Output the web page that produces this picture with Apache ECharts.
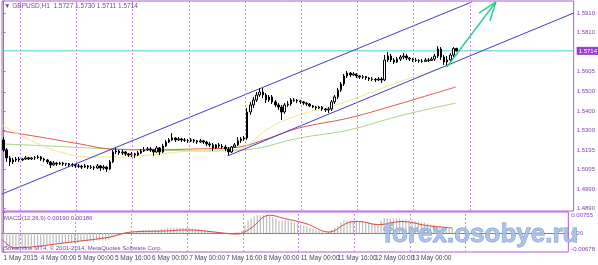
<!DOCTYPE html>
<html><head><meta charset="utf-8">
<script src="https://cdn.jsdelivr.net/npm/echarts@6/dist/echarts.min.js"></script>
<style>html,body{margin:0;padding:0;background:#fff}#c{width:598px;height:265px}</style>
</head><body><div id="c"></div>
<script>
// ---- candle data (GBPUSD H1) ----
const opens=[
1.5248,1.5196,1.5154,1.5133,1.5143,1.5148,1.5143,1.5148,1.5154,1.5148,
1.5154,1.5156,1.5159,1.5148,1.5143,1.5133,1.5117,1.5127,1.5122,1.5127,
1.5122,1.5124,1.5117,1.5119,1.5112,1.5110,1.5106,1.5112,1.5106,1.5104,
1.5101,1.5112,1.5101,1.5106,1.5096,1.5133,1.5185,1.5190,1.5180,1.5185,
1.5175,1.5169,1.5175,1.5169,1.5180,1.5190,1.5196,1.5201,1.5196,1.5185,
1.5206,1.5185,1.5216,1.5237,1.5248,1.5258,1.5248,1.5253,1.5248,1.5246,
1.5243,1.5248,1.5243,1.5237,1.5243,1.5237,1.5227,1.5222,1.5206,1.5222,
1.5216,1.5211,1.5201,1.5185,1.5211,1.5222,1.5243,1.5253,1.5258,1.5394,
1.5431,1.5457,1.5483,1.5499,1.5483,1.5457,1.5473,1.5447,1.5431,1.5420,
1.5394,1.5431,1.5436,1.5457,1.5455,1.5452,1.5447,1.5441,1.5436,1.5426,
1.5420,1.5415,1.5420,1.5410,1.5405,1.5410,1.5447,1.5473,1.5509,1.5541,
1.5583,1.5598,1.5588,1.5593,1.5583,1.5577,1.5579,1.5572,1.5567,1.5565,
1.5562,1.5567,1.5562,1.5666,1.5687,1.5666,1.5656,1.5671,1.5682,1.5687,
1.5677,1.5671,1.5666,1.5664,1.5661,1.5659,1.5666,1.5664,1.5671,1.5687,
1.5724,1.5682,1.5656,1.5666,1.5692,1.5727];
const closes=[
1.5196,1.5154,1.5133,1.5143,1.5148,1.5143,1.5148,1.5154,1.5148,1.5154,
1.5156,1.5159,1.5148,1.5143,1.5133,1.5117,1.5127,1.5122,1.5127,1.5122,
1.5124,1.5117,1.5119,1.5112,1.5110,1.5106,1.5112,1.5106,1.5104,1.5101,
1.5112,1.5101,1.5106,1.5096,1.5133,1.5185,1.5190,1.5180,1.5185,1.5175,
1.5169,1.5175,1.5169,1.5180,1.5190,1.5196,1.5201,1.5196,1.5185,1.5206,
1.5185,1.5216,1.5237,1.5248,1.5258,1.5248,1.5253,1.5248,1.5246,1.5243,
1.5248,1.5243,1.5237,1.5243,1.5237,1.5227,1.5222,1.5206,1.5222,1.5216,
1.5211,1.5201,1.5185,1.5211,1.5222,1.5243,1.5253,1.5258,1.5394,1.5431,
1.5457,1.5483,1.5499,1.5483,1.5457,1.5473,1.5447,1.5431,1.5420,1.5394,
1.5431,1.5436,1.5457,1.5455,1.5452,1.5447,1.5441,1.5436,1.5426,1.5420,
1.5415,1.5420,1.5410,1.5405,1.5410,1.5447,1.5473,1.5509,1.5541,1.5583,
1.5598,1.5588,1.5593,1.5583,1.5577,1.5579,1.5572,1.5567,1.5565,1.5562,
1.5567,1.5562,1.5666,1.5687,1.5666,1.5656,1.5671,1.5682,1.5687,1.5677,
1.5671,1.5666,1.5664,1.5661,1.5659,1.5666,1.5664,1.5671,1.5687,1.5724,
1.5682,1.5656,1.5666,1.5692,1.5726,1.5714];
const highs=[
1.5263,1.5206,1.5164,1.5154,1.5159,1.5159,1.5154,1.5164,1.5159,1.5159,
1.5164,1.5169,1.5164,1.5154,1.5148,1.5138,1.5138,1.5133,1.5133,1.5133,
1.5127,1.5127,1.5127,1.5122,1.5122,1.5117,1.5122,1.5117,1.5117,1.5112,
1.5122,1.5117,1.5117,1.5112,1.5143,1.5196,1.5206,1.5196,1.5196,1.5190,
1.5180,1.5185,1.5180,1.5190,1.5201,1.5211,1.5211,1.5211,1.5201,1.5216,
1.5211,1.5227,1.5248,1.5258,1.5284,1.5263,1.5263,1.5258,1.5258,1.5253,
1.5258,1.5253,1.5248,1.5253,1.5248,1.5243,1.5237,1.5232,1.5227,1.5232,
1.5227,1.5222,1.5211,1.5216,1.5232,1.5263,1.5263,1.5269,1.5415,1.5447,
1.5473,1.5499,1.5520,1.5520,1.5494,1.5483,1.5483,1.5457,1.5441,1.5431,
1.5441,1.5452,1.5467,1.5467,1.5462,1.5457,1.5452,1.5447,1.5441,1.5431,
1.5426,1.5426,1.5426,1.5415,1.5420,1.5457,1.5483,1.5520,1.5551,1.5593,
1.5609,1.5603,1.5603,1.5598,1.5588,1.5588,1.5583,1.5577,1.5577,1.5572,
1.5577,1.5577,1.5692,1.5708,1.5698,1.5677,1.5682,1.5692,1.5703,1.5698,
1.5682,1.5677,1.5677,1.5671,1.5671,1.5677,1.5677,1.5682,1.5698,1.5739,
1.5734,1.5692,1.5687,1.5703,1.5734,1.5730];
const lows=[
1.5185,1.5133,1.5112,1.5122,1.5133,1.5133,1.5138,1.5143,1.5143,1.5143,
1.5143,1.5148,1.5138,1.5133,1.5122,1.5101,1.5112,1.5112,1.5117,1.5112,
1.5112,1.5106,1.5106,1.5101,1.5101,1.5096,1.5101,1.5096,1.5096,1.5091,
1.5096,1.5086,1.5091,1.5080,1.5091,1.5127,1.5175,1.5169,1.5169,1.5164,
1.5159,1.5159,1.5154,1.5164,1.5175,1.5185,1.5190,1.5185,1.5164,1.5180,
1.5169,1.5180,1.5211,1.5232,1.5243,1.5237,1.5243,1.5237,1.5237,1.5232,
1.5237,1.5232,1.5227,1.5232,1.5227,1.5216,1.5211,1.5190,1.5201,1.5206,
1.5201,1.5190,1.5169,1.5180,1.5206,1.5216,1.5232,1.5243,1.5248,1.5379,
1.5415,1.5447,1.5473,1.5467,1.5441,1.5447,1.5436,1.5420,1.5405,1.5352,
1.5384,1.5420,1.5426,1.5447,1.5441,1.5436,1.5431,1.5426,1.5420,1.5415,
1.5405,1.5410,1.5399,1.5394,1.5389,1.5399,1.5436,1.5462,1.5499,1.5530,
1.5572,1.5577,1.5583,1.5572,1.5567,1.5567,1.5562,1.5556,1.5556,1.5551,
1.5556,1.5546,1.5556,1.5656,1.5656,1.5645,1.5651,1.5661,1.5671,1.5666,
1.5661,1.5656,1.5656,1.5651,1.5651,1.5656,1.5656,1.5661,1.5661,1.5677,
1.5666,1.5640,1.5635,1.5656,1.5682,1.5711];

// ---- MACD(12,26,9) ----
const macdHist=[
-0.00490,-0.00528,-0.00528,-0.00528,-0.00528,-0.00490,-0.00490,-0.00490,-0.00452,-0.00452,
-0.00452,-0.00452,-0.00415,-0.00415,-0.00415,-0.00415,-0.00415,-0.00377,-0.00377,-0.00377,
-0.00377,-0.00339,-0.00339,-0.00339,-0.00339,-0.00302,-0.00302,-0.00302,-0.00302,-0.00302,
-0.00264,-0.00264,-0.00264,-0.00264,-0.00226,-0.00151,-0.00113,-0.00075,-0.00038,0.00010,
0.00038,0.00038,0.00075,0.00075,0.00113,0.00113,0.00113,0.00113,0.00113,0.00113,
0.00113,0.00151,0.00151,0.00189,0.00189,0.00189,0.00189,0.00189,0.00189,0.00189,
0.00189,0.00151,0.00151,0.00151,0.00113,0.00113,0.00075,0.00075,0.00038,0.00038,
0.00038,0.00010,0.00008,0.00005,0.00010,0.00038,0.00038,0.00075,0.00302,0.00452,
0.00528,0.00603,0.00641,0.00641,0.00641,0.00641,0.00603,0.00566,0.00528,0.00452,
0.00452,0.00452,0.00452,0.00415,0.00377,0.00339,0.00302,0.00264,0.00226,0.00189,
0.00151,0.00113,0.00075,0.00038,0.00010,0.00038,0.00113,0.00189,0.00264,0.00377,
0.00452,0.00452,0.00452,0.00452,0.00452,0.00415,0.00415,0.00377,0.00377,0.00339,
0.00339,0.00302,0.00452,0.00528,0.00528,0.00528,0.00528,0.00528,0.00528,0.00490,
0.00490,0.00452,0.00452,0.00415,0.00415,0.00377,0.00377,0.00339,0.00302,0.00302,
0.00264,0.00264,0.00226,0.00226,0.00190,0.00190];
const signalBars=[-0.5,3.65,9.4,23.4,34,41.3,52.2,59.5,68.1,75.5,79.6,86,90.5,97.8,105.1,111.5,114.7,121.1,128.8,137.1,145];
const signalValues=[-0.00226,-0.00528,-0.00490,-0.00302,-0.00151,0.00038,0.00075,0.00113,0.00038,-0.00038,0.00151,0.00641,0.00528,0.00339,0.00038,0.00377,0.00415,0.00302,0.00415,0.00264,0.00186];

// ---- moving averages (read at bar positions) ----
const maYellowBars=[-0.5,8.44,18.0,27.6,37.2,46.8,56.35,65.9,72.3,77.1,85.1,94.7,104.3,113.8,126.6,136.2,144.8];
const maYellowValues=[1.5326,1.5248,1.5185,1.5159,1.5159,1.5169,1.5185,1.5196,1.5196,1.5211,1.5311,1.5379,1.5420,1.5473,1.5551,1.5603,1.5651];
const maRedBars=[-0.5,11.64,24.41,34.0,46.8,62.7,72.3,77.1,85.1,94.7,110.6,126.6,136.2,144.8];
const maRedValues=[1.5295,1.5263,1.5227,1.5201,1.5196,1.5201,1.5206,1.5216,1.5258,1.5311,1.5363,1.5436,1.5483,1.5525];
const maGreenBars=[-0.5,14.83,34.0,46.8,62.7,77.1,94.7,110.6,126.6,144.8];
const maGreenValues=[1.5227,1.5216,1.5201,1.5196,1.5190,1.5196,1.5258,1.5300,1.5373,1.5441];

// ---- drawn objects ----
const upperChannelBars=[-0.5,149.9], upperChannelPrices=[1.4965,1.5970];
const lowerChannelBars=[71.7,182.5], lowerChannelPrices=[1.5164,1.5912];
const arrowBars=[141.9,157.6], arrowPrices=[1.5630,1.5970];
const arrowHeadBars=[152.2,157.6,155.7], arrowHeadPrices=[1.5912,1.5970,1.5870];
const lastPrice=1.5714;

// ---- axes ----
const priceTicks=[1.4890,1.4990,1.5095,1.5195,1.5300,1.5400,1.5500,1.5605,1.5810,1.5910];
const macdTicks=[-0.00678,0,0.00755];
const timeLabels=['1 May 2015','4 May 00:00','5 May 00:00','5 May 16:00','6 May 00:00','7 May 00:00','7 May 16:00','8 May 00:00','11 May 00:00','11 May 16:00','12 May 00:00','13 May 00:00','13 May 16:00'];
const timeLabelBars=[0,12,24,36,48,60,72,84,96,108,120,132,144];
const gridBars=[5.3,23.3,41.3,59.3,77.3,95.3,113.3,131.3,149.3];
const SLOTS=183;

const PURPLE='#b05ad6', TXT='#7a3fa6';
const cats=Array.from({length:SLOTS},(_,i)=>String(i));
const labelAt={}; timeLabelBars.forEach((b,i)=>labelAt[b]=timeLabels[i]);
const candleData=opens.map((o,i)=>[o,closes[i],lows[i],highs[i]]);
const pairs=(xs,ys)=>xs.map((x,i)=>[x,ys[i]]);
const vline={silent:true,symbol:'none',label:{show:false},animation:false,
  lineStyle:{color:'#c98ce8',type:[2,2],width:1},data:gridBars.map(v=>({xAxis:v}))};

const chart=echarts.init(document.getElementById('c'),null,{renderer:'canvas'});
chart.setOption({
  animation:false,
  textStyle:{fontFamily:'Liberation Sans'},
  grid:[
    {left:2,top:1,width:573,height:210,show:true,borderColor:PURPLE,borderWidth:1,backgroundColor:'#fff'},
    {left:2,top:212,width:573,height:40,show:true,borderColor:PURPLE,borderWidth:1,backgroundColor:'#fff'}
  ],
  xAxis:[
    {type:'category',gridIndex:0,data:cats,show:false,boundaryGap:true},
    {type:'value',gridIndex:0,min:-0.5,max:SLOTS-0.5,show:false},
    {type:'category',gridIndex:1,data:cats,boundaryGap:true,
      axisLine:{lineStyle:{color:PURPLE}},
      axisTick:{length:2,lineStyle:{color:'#555'},interval:(i)=>labelAt[i]!==undefined},
      axisLabel:{interval:(i)=>labelAt[i]!==undefined,formatter:(v,i)=>labelAt[i]||'',align:'left',
        fontSize:6.5,color:'#4d3d5c',margin:3,fontFamily:'Liberation Sans'}},
    {type:'value',gridIndex:1,min:-0.5,max:SLOTS-0.5,show:false}
  ],
  yAxis:[
    {type:'value',gridIndex:0,position:'right',min:1.4876,max:1.5975,scale:true,
      splitLine:{show:false},
      axisLine:{show:true,lineStyle:{color:PURPLE}},
      axisTick:{show:true,length:2,customValues:priceTicks,lineStyle:{color:PURPLE}},
      axisLabel:{customValues:priceTicks,formatter:v=>v.toFixed(4),fontSize:6,color:'#8a45b5',margin:3,fontFamily:'Liberation Sans'}},
    {type:'value',gridIndex:1,position:'right',min:-0.00678,max:0.00755,
      splitLine:{show:false},
      axisLine:{show:true,lineStyle:{color:PURPLE}},
      axisTick:{show:true,length:2,customValues:macdTicks,lineStyle:{color:PURPLE}},
      axisLabel:{customValues:macdTicks,formatter:v=>v===0?'0.00':v.toFixed(5),fontSize:6,color:'#8a45b5',margin:3,
        verticalAlignMaxLabel:'top',verticalAlignMinLabel:'bottom',fontFamily:'Liberation Sans'}}
  ],
  series:[
    {type:'line',xAxisIndex:1,yAxisIndex:0,data:pairs(maGreenBars,maGreenValues),smooth:0.4,showSymbol:false,
      lineStyle:{color:'#a9d583',width:1},markLine:vline,z:2},
    {type:'line',xAxisIndex:1,yAxisIndex:0,data:pairs(maRedBars,maRedValues),smooth:0.4,showSymbol:false,
      lineStyle:{color:'#e2584c',width:1},z:2},
    {type:'line',xAxisIndex:1,yAxisIndex:0,data:pairs(maYellowBars,maYellowValues),smooth:0.4,showSymbol:false,
      lineStyle:{color:'#f2e88c',width:1},z:2},
    {type:'line',xAxisIndex:1,yAxisIndex:0,data:[[-0.5,lastPrice],[SLOTS-0.5,lastPrice]],showSymbol:false,
      lineStyle:{color:'#44d2d6',width:1},z:2,
      endLabel:{show:true,formatter:lastPrice.toFixed(4),distance:3,fontSize:6,color:'#ffffff',
        backgroundColor:'#9a3ccb',padding:[1,2,1,2],fontFamily:'Liberation Sans'}},
    {type:'candlestick',xAxisIndex:0,yAxisIndex:0,data:candleData,barWidth:2,z:3,
      itemStyle:{color:'#ffffff',color0:'#000000',borderColor:'#000000',borderColor0:'#000000',borderWidth:1}},
    {type:'line',xAxisIndex:1,yAxisIndex:0,data:pairs(upperChannelBars,upperChannelPrices),showSymbol:false,
      lineStyle:{color:'#3d3dc8',width:1},z:4},
    {type:'line',xAxisIndex:1,yAxisIndex:0,data:pairs(lowerChannelBars,lowerChannelPrices),showSymbol:false,
      lineStyle:{color:'#3d3dc8',width:1},z:4},
    {type:'line',xAxisIndex:1,yAxisIndex:0,data:pairs(arrowBars,arrowPrices),showSymbol:false,
      lineStyle:{color:'#2fd08f',width:1.5},z:5},
    {type:'line',xAxisIndex:1,yAxisIndex:0,data:pairs(arrowHeadBars,arrowHeadPrices),showSymbol:false,
      lineStyle:{color:'#2fd08f',width:1.5},z:5},
    {type:'bar',xAxisIndex:2,yAxisIndex:1,data:macdHist,barWidth:1.2,itemStyle:{color:'#bdbdbd'},z:2},
    {type:'line',xAxisIndex:3,yAxisIndex:1,data:pairs(signalBars,signalValues),smooth:0.4,showSymbol:false,
      lineStyle:{color:'#e2453a',width:1},markLine:vline,z:3}
  ],
  graphic:[
    {type:'text',left:4,top:3,z:100,style:{text:'▼ GBPUSD,H1  1.5727 1.5730 1.5711 1.5714',fontSize:6.5,fill:TXT,fontFamily:'Liberation Sans'}},
    {type:'text',left:4,top:215,z:100,style:{text:'MACD(12,26,9) 0.00190 0.00186',fontSize:6,fill:TXT,fontFamily:'Liberation Sans'}},
    {type:'text',left:4,top:245,z:100,style:{text:'Streamline MT4, © 2001-2014, MetaQuotes Software Corp.',fontSize:6,fill:TXT,fontFamily:'Liberation Sans'}},
    {type:'text',left:383,top:221,z:100,style:{text:'forex.osobye.ru',fontSize:26,fontWeight:'bold',fontFamily:'Liberation Sans',
      fill:'#a3bee3',stroke:'#6e8fc2',lineWidth:0.8,opacity:0.9}}
  ]
});
</script></body></html>
